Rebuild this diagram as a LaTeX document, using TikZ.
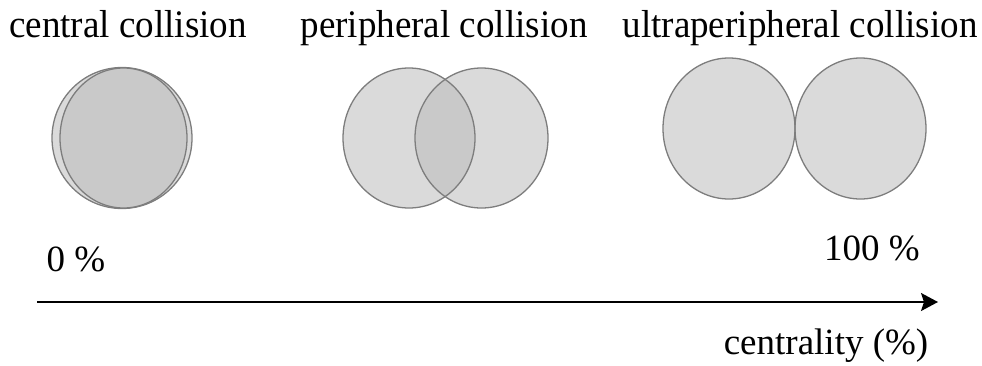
\documentclass[tikz,border=0pt]{standalone}
\usepackage{fontspec}
\setmainfont{Liberation Serif}
\newfontfamily\titlefont[FakeStretch=0.95]{Liberation Serif}
\usetikzlibrary{arrows.meta}
\definecolor{nucA}{RGB}{218,218,218}
\definecolor{nucB}{RGB}{201,201,201}
\definecolor{nucEdge}{RGB}{125,125,125}
\tikzset{
  lbl/.style={font=\fontsize{37}{40}\selectfont, anchor=base, inner sep=0pt},
  ttl/.style={font=\titlefont\fontsize{39}{42}\selectfont, anchor=base, inner sep=0pt},
  nucline/.style={draw=nucEdge, line width=1.3pt},
}
\begin{document}
\begin{tikzpicture}[x=1pt,y=-1pt]
\useasboundingbox (0,0) rectangle (982,365);
% titles
\node[ttl] (tc) at (128,37.5) {central collision};
\node[ttl] (tp) at (444,37.5) {peripheral collision};
\node[ttl] (tu) at (800,37.5) {ultraperipheral collision};
% central collision
\fill[nucA] (122,138) ellipse [x radius=70, y radius=70.5];
\draw[nucline] (122,138) ellipse [x radius=70, y radius=70.5];
\fill[nucB] (123.5,138) ellipse [x radius=63.5, y radius=70];
\draw[nucline] (123.5,138) ellipse [x radius=63.5, y radius=70];
% peripheral collision
\fill[nucA] (409,138) ellipse [x radius=66, y radius=70];
\fill[nucA] (481.5,138) ellipse [x radius=66.5, y radius=70];
\begin{scope}
  \clip (409,138) ellipse [x radius=66, y radius=70];
  \fill[nucB] (481.5,138) ellipse [x radius=66.5, y radius=70];
\end{scope}
\draw[nucline] (409,138) ellipse [x radius=66, y radius=70];
\draw[nucline] (481.5,138) ellipse [x radius=66.5, y radius=70];
% ultraperipheral collision
\fill[nucA] (729,128.5) ellipse [x radius=66, y radius=70.5];
\fill[nucA] (860.5,128.5) ellipse [x radius=65.5, y radius=70.5];
\draw[nucline] (729,128.5) ellipse [x radius=66, y radius=70.5];
\draw[nucline] (860.5,128.5) ellipse [x radius=65.5, y radius=70.5];
% axis labels
\node[lbl] (l0) at (76,271) {0 \%};
\node[lbl] (l100) at (872,260) {100 \%};
% axis
\coordinate (a0) at (37,302);
\coordinate (a1) at (938,302);
\draw[line width=1.6pt, -{Stealth[length=17pt, width=18pt, inset=3pt]}] (a0) -- (a1);
\node[lbl] (lc) at (826,354) {centrality (\%)};
\end{tikzpicture}
\end{document}
